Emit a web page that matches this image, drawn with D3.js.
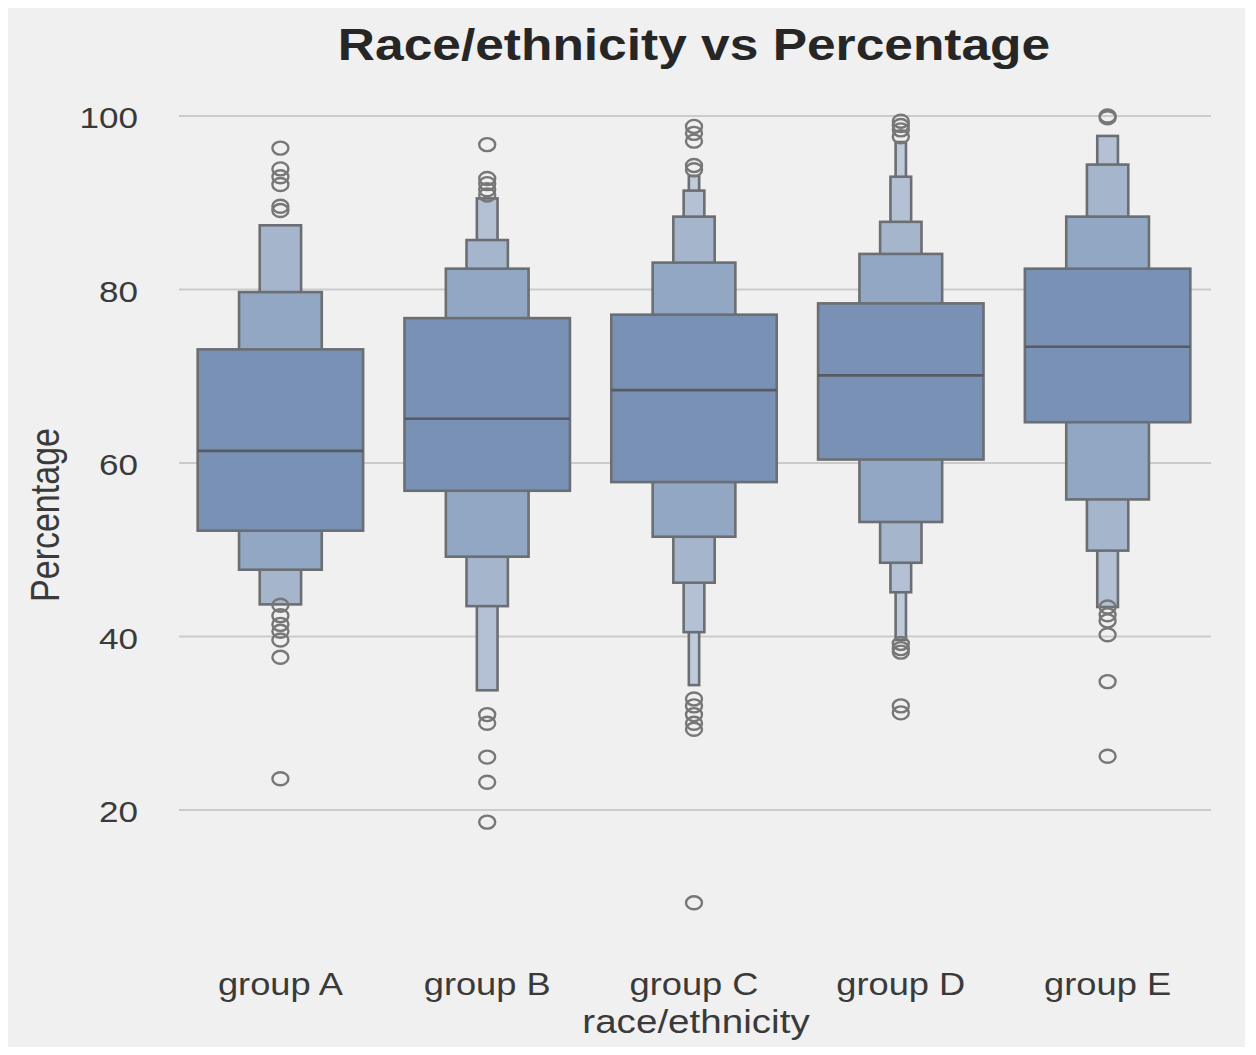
<!DOCTYPE html>
<html>
<head>
<meta charset="utf-8">
<script src="https://cdn.jsdelivr.net/npm/d3@7"></script>
<style>
  html, body { margin: 0; padding: 0; background: #ffffff; }
  svg { display: block; }
  text { font-family: "Liberation Sans", Arial, sans-serif; }
</style>
</head>
<body>
<svg id="chart" width="1256" height="1055"></svg>
<script>
// Letter-value (boxen) summary of percentage by race/ethnicity group
const groups = ["group A", "group B", "group C", "group D", "group E"];
const medians = [61.4, 65.1, 68.4, 70.1, 73.4];
// lower / upper edge of each letter-value box, innermost level first
const lowerEdges = [
  [52.2, 47.7, 43.7],
  [56.8, 49.2, 43.5, 33.8],
  [57.8, 51.5, 46.2, 40.5, 34.4],
  [60.4, 53.2, 48.5, 45.1, 39.6],
  [64.7, 55.8, 49.9, 43.4]
];
const upperEdges = [
  [73.1, 79.7, 87.4],
  [76.7, 82.4, 85.7, 90.5],
  [77.1, 83.1, 88.4, 91.4, 93.1],
  [78.4, 84.1, 87.8, 93.0, 97.0],
  [82.4, 88.4, 94.4, 97.7]
];
const outliers = [
  [96.3, 93.9, 93.0, 92.1, 89.6, 89.1, 43.6, 42.4, 41.4, 40.6, 39.6, 37.6, 23.6],
  [96.7, 92.8, 92.2, 91.5, 90.9, 31.0, 30.0, 26.1, 23.2, 18.6],
  [98.8, 98.0, 97.1, 94.3, 93.8, 32.8, 32.0, 31.0, 30.0, 29.3, 9.3],
  [99.4, 98.9, 98.4, 97.6, 39.2, 38.6, 38.2, 32.0, 31.2],
  [100.0, 99.8, 43.4, 42.5, 41.8, 40.2, 34.8, 26.2]
];
const yTicks = [20, 40, 60, 80, 100];
const title = "Race/ethnicity vs Percentage";
const xTitle = "race/ethnicity";
const yTitle = "Percentage";

const levelFills = ["#7891b5", "#91a7c3", "#a5b5cc", "#b4c1d4", "#bfcadb"];
const edgeColor = "#6b6e72";
const textStretch = 1.17;

const svg = d3.select("#chart");

// panel background
svg.append("rect")
  .attr("x", 8).attr("y", 8)
  .attr("width", 1237).attr("height", 1039)
  .attr("fill", "#f0f0f0");

const x = d3.scaleBand().domain(groups).range([177, 1211]).paddingInner(0).paddingOuter(0);
const y = d3.scaleLinear().domain([20, 100]).range([810, 116]);

// horizontal grid
svg.append("g").selectAll("line")
  .data(yTicks)
  .join("line")
  .attr("x1", 179).attr("x2", 1211)
  .attr("y1", d => y(d)).attr("y2", d => y(d))
  .attr("stroke", "#cbcbcb")
  .attr("stroke-width", 2);

// stretched text helper
function label(parent, str, tx, ty, size, opts = {}) {
  const g = parent.append("g")
    .attr("transform", `translate(${tx},${ty}) scale(${textStretch},1)` + (opts.rotate ? ` rotate(${opts.rotate})` : ""));
  g.append("text")
    .attr("text-anchor", opts.anchor || "middle")
    .attr("font-size", size)
    .attr("font-weight", opts.weight || "normal")
    .attr("fill", opts.fill || "#333333")
    .text(str);
  return g;
}

// y tick labels
yTicks.forEach(t => label(svg, String(t), 138, y(t) + 12, 30, { anchor: "end", fill: "#3a3a3a" }));

// boxes
const bw = x.bandwidth() * 0.8;
groups.forEach((grp, i) => {
  const cx = x(grp) + x.bandwidth() / 2;
  const g = svg.append("g");
  const levels = lowerEdges[i].map((lo, k) => ({ k, lo, hi: upperEdges[i][k] }));
  // draw narrowest (outermost) first so wider inner boxes sit on top
  levels.slice().reverse().forEach(L => {
    const w = bw / Math.pow(2, L.k);
    g.append("rect")
      .attr("x", cx - w / 2)
      .attr("y", y(L.hi))
      .attr("width", w)
      .attr("height", y(L.lo) - y(L.hi))
      .attr("fill", levelFills[L.k])
      .attr("stroke", edgeColor)
      .attr("stroke-width", 2.6);
  });
  g.append("line")
    .attr("x1", cx - bw / 2).attr("x2", cx + bw / 2)
    .attr("y1", y(medians[i])).attr("y2", y(medians[i]))
    .attr("stroke", "#585c62")
    .attr("stroke-width", 2.6);
  g.selectAll("ellipse")
    .data(outliers[i])
    .join("ellipse")
    .attr("cx", cx)
    .attr("cy", d => y(d))
    .attr("rx", 8).attr("ry", 6.5)
    .attr("fill", "none")
    .attr("stroke", "#777777")
    .attr("stroke-width", 2.4);
});

// x tick labels
groups.forEach(grp => label(svg, grp, x(grp) + x.bandwidth() / 2, 995, 31, { fill: "#3a3a3a" }));

// axis titles
label(svg, xTitle, 696, 1033, 33, { fill: "#3a3a3a" });
label(svg, yTitle, 59, 515, 34, { rotate: -90, fill: "#3a3a3a" });

// chart title
label(svg, title, 694, 60, 44, { weight: "bold", fill: "#262626" });
</script>
</body>
</html>
